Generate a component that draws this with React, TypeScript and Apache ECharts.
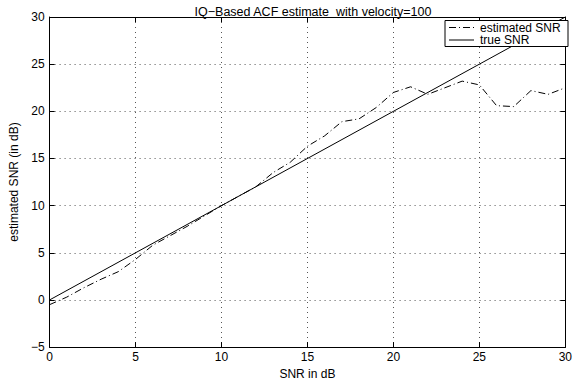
import React, { useEffect, useRef } from "react";
import * as echarts from "echarts";

const snrX: number[] = [0, 1, 2, 3, 4, 5, 6, 7, 8, 9, 10, 11, 12, 13, 14, 15, 16, 17, 18, 19, 20, 21, 22, 23, 24, 25, 26, 27, 28, 29, 30];
const estimatedSNR: number[] = [-0.5, 0.3, 1.3, 2.2, 3.0, 4.3, 5.8, 6.8, 7.8, 8.9, 10.0, 11.0, 12.0, 13.5, 14.6, 16.3, 17.4, 18.9, 19.2, 20.4, 22.0, 22.6, 21.8, 22.5, 23.2, 22.8, 20.6, 20.5, 22.2, 21.8, 22.5];
const trueX: number[] = [0, 30];
const trueSNR: number[] = [0, 30];
const xTicks = { min: 0, max: 30, interval: 5 };
const yTicks = { min: -5, max: 30, interval: 5 };
const titleText = "IQ\u2212Based ACF estimate  with velocity=100";
const xLabel = "SNR in dB";
const yLabel = "estimated SNR (in dB)";
const legendNames = ["estimated SNR", "true SNR"];

const FONT = "'Liberation Sans', Arial, Helvetica, sans-serif";
const DASHDOT = [7, 3, 1, 3];

export default function App() {
  const ref = useRef<HTMLDivElement>(null);
  useEffect(() => {
    if (!ref.current) return;
    const chart = echarts.init(ref.current, undefined, { renderer: "svg" });
    const axisLine = { show: true, onZero: false, lineStyle: { color: "#000", width: 1 } };
    const axisTick = { show: true, inside: true, length: 5, lineStyle: { color: "#000" } };
    const splitLine = { show: true, lineStyle: { color: "#555", type: [1, 4] as any, width: 1 } };
    const label = { color: "#000", fontSize: 12, fontFamily: FONT };
    const fmt = (v: number) => (v < 0 ? "\u2212" + Math.abs(v) : String(v));
    const option: any = {
      animation: false,
      backgroundColor: "#fff",
      title: {
        text: titleText,
        left: 308,
        textAlign: "center",
        top: 0,
        textStyle: { fontSize: 12.5, fontWeight: "normal", color: "#000", fontFamily: FONT },
      },
      grid: { left: 40, right: 5, top: 17, bottom: 29, containLabel: false },
      xAxis: [
        {
          type: "value", ...xTicks, position: "bottom",
          axisLine, axisTick, splitLine,
          axisLabel: { ...label, margin: 4, formatter: fmt },
          name: xLabel, nameLocation: "middle", nameGap: 17,
          nameTextStyle: { ...label },
        },
        {
          type: "value", ...xTicks, position: "top",
          axisLine, axisTick, splitLine: { show: false }, axisLabel: { show: false },
        },
      ],
      yAxis: [
        {
          type: "value", ...yTicks, position: "left",
          axisLine, axisTick, splitLine,
          axisLabel: { ...label, margin: 5, formatter: fmt },
          name: yLabel, nameLocation: "middle", nameGap: 22, nameRotate: 90,
          nameTextStyle: { ...label },
        },
        {
          type: "value", ...yTicks, position: "right",
          axisLine, axisTick, splitLine: { show: false }, axisLabel: { show: false },
        },
      ],
      series: [
        {
          name: legendNames[0], type: "line", showSymbol: false, symbol: "none",
          data: snrX.map((x, i) => [x, estimatedSNR[i]]),
          lineStyle: { color: "#000", width: 1, type: DASHDOT },
          clip: true,
        },
        {
          name: legendNames[1], type: "line", showSymbol: false, symbol: "none",
          data: trueX.map((x, i) => [x, trueSNR[i]]),
          lineStyle: { color: "#000", width: 1, type: "solid" },
          clip: true,
        },
      ],
      graphic: [
        {
          type: "rect", shape: { x: 445, y: 20.5, width: 123, height: 26 },
          style: { fill: "#fff", stroke: "#000", lineWidth: 1 }, z: 100,
        },
        {
          type: "line", shape: { x1: 449, y1: 27.5, x2: 474, y2: 27.5 },
          style: { stroke: "#000", lineWidth: 1, lineDash: DASHDOT }, z: 101,
        },
        {
          type: "line", shape: { x1: 449, y1: 40, x2: 474, y2: 40 },
          style: { stroke: "#000", lineWidth: 1 }, z: 101,
        },
        {
          type: "text", x: 480, y: 27.5, z: 101,
          style: { text: legendNames[0], fill: "#000", fontSize: 12, lineHeight: 12, fontFamily: FONT, verticalAlign: "middle" },
        },
        {
          type: "text", x: 480, y: 40, z: 101,
          style: { text: legendNames[1], fill: "#000", fontSize: 12, lineHeight: 12, fontFamily: FONT, verticalAlign: "middle" },
        },
      ],
    };
    chart.setOption(option);
    return () => chart.dispose();
  }, []);
  return (
    <div
      ref={ref}
      style={{ position: "fixed", left: 0, top: 0, width: 575, height: 385, background: "#fff" }}
    />
  );
}
